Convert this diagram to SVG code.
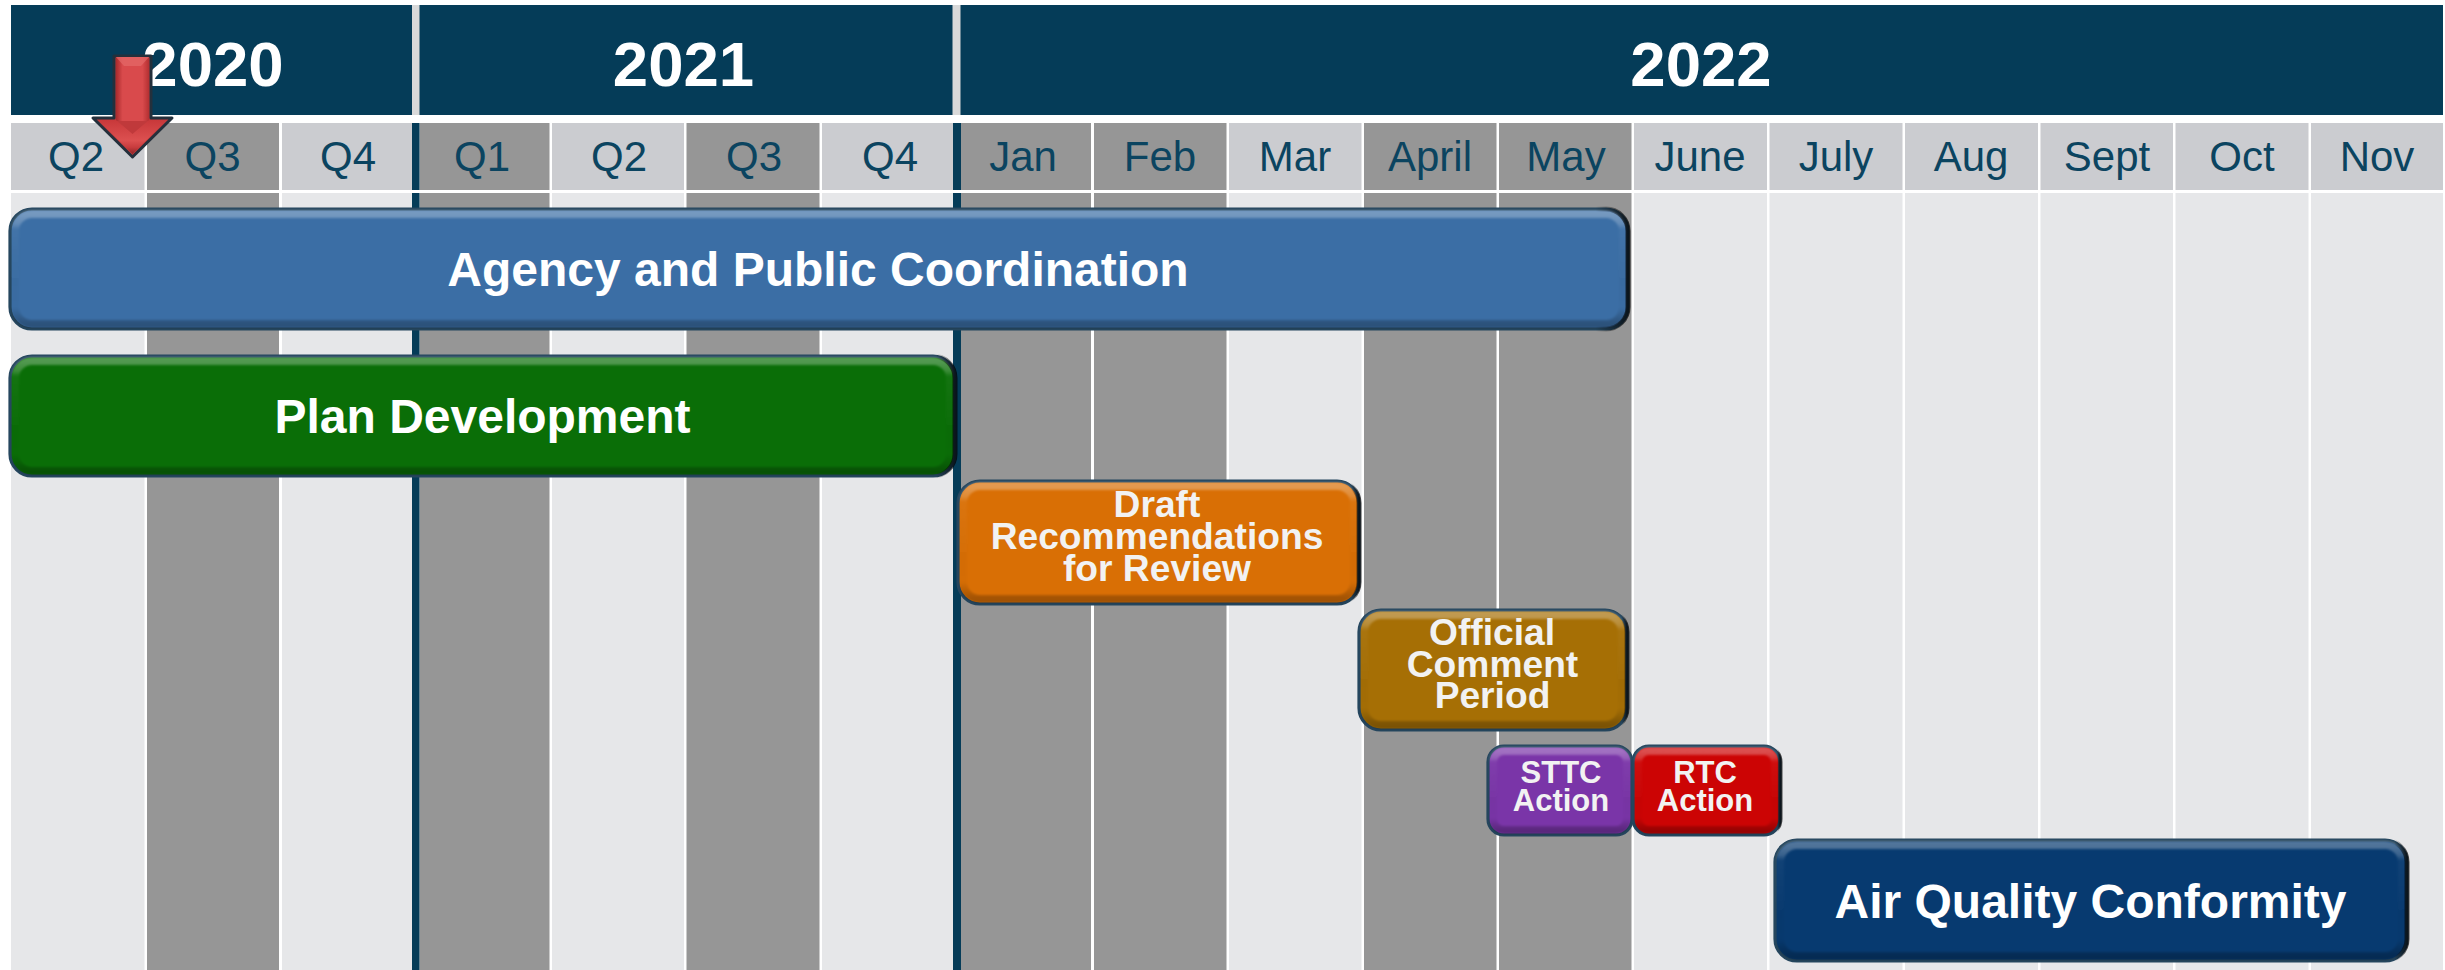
<svg xmlns="http://www.w3.org/2000/svg" width="2445" height="970" viewBox="0 0 2445 970">
<style>
text{font-family:"Liberation Sans",Arial,sans-serif;text-anchor:middle}
.yr{fill:#053c58}.gap{fill:#d9d9d9}
.yt{font-size:63.500px;font-weight:700;fill:#fff}
.l{fill:#cbccd0}.d{fill:#969696}.bl{fill:#e6e7e9}.nv{fill:#053c58}
.st{font-size:42px;fill:#0b4460}
.edge{stroke:#25465e;stroke-width:3.2}
.bev{fill:none;stroke:url(#bevel);stroke-width:8;filter:url(#soft)}
.shade{fill:none;stroke:url(#side);stroke-width:5}
.b{font-weight:700;fill:#fff}
.xl{font-size:48px}.m{font-size:37.200px;fill:#f2f2f2}.s{font-size:31px;fill:#f2f2f2}
</style>
<defs>
<linearGradient id="bevel" x1="0" y1="0" x2="0" y2="1">
<stop offset="0" stop-color="#fff" stop-opacity=".3"/><stop offset=".09" stop-color="#fff" stop-opacity=".2"/><stop offset=".14" stop-color="#fff" stop-opacity=".04"/><stop offset=".85" stop-color="#000" stop-opacity=".02"/><stop offset="1" stop-color="#000" stop-opacity=".26"/>
</linearGradient>
<linearGradient id="side" x1="0" y1="0" x2="1" y2="0">
<stop offset="0" stop-color="#000" stop-opacity="0"/><stop offset=".98" stop-color="#000" stop-opacity="0"/><stop offset="1" stop-color="#000" stop-opacity=".7"/>
</linearGradient>
<linearGradient id="arrowFill" x1="0" y1="0" x2="0" y2="1">
<stop offset="0" stop-color="#c8383a"/><stop offset=".6" stop-color="#dc5050"/><stop offset=".8" stop-color="#c83c3e"/><stop offset="1" stop-color="#8e2426"/>
</linearGradient>
<linearGradient id="shaft" x1="0" y1="0" x2="1" y2="0">
<stop offset="0" stop-color="#a92b2d"/><stop offset=".2" stop-color="#d94a4c"/><stop offset=".8" stop-color="#d94a4c"/><stop offset="1" stop-color="#b43032"/>
</linearGradient>
<filter id="soft" x="-5%" y="-10%" width="110%" height="120%"><feGaussianBlur stdDeviation="1.3"/></filter>
</defs>
<rect width="2445" height="970" fill="#fff"/>
<g id="years">
<rect class="gap" x="411" y="5" width="9" height="110"/><rect class="gap" x="952" y="5" width="9" height="110"/>
<rect class="yr" x="11" y="5" width="401" height="110"/><rect class="yr" x="419.500" y="5" width="533" height="110"/><rect class="yr" x="960.500" y="5" width="1482.500" height="110"/>
<text class="yt" x="213" y="86">2020</text><text class="yt" x="683.500" y="86">2021</text><text class="yt" x="1701" y="86">2022</text>
</g>
<g id="periods">
<rect class="l" x="11" y="123" width="133.500" height="67"/><rect class="d" x="147" y="123" width="132" height="67"/><rect class="l" x="282" y="123" width="130" height="67"/>
<rect class="d" x="419.500" y="123" width="130" height="67"/><rect class="l" x="552" y="123" width="132" height="67"/><rect class="d" x="686.500" y="123" width="133" height="67"/><rect class="l" x="822" y="123" width="131" height="67"/>
<rect class="d" x="961" y="123" width="130" height="67"/><rect class="d" x="1094" y="123" width="132.500" height="67"/><rect class="l" x="1229" y="123" width="132.500" height="67"/><rect class="d" x="1364" y="123" width="132.500" height="67"/><rect class="d" x="1499" y="123" width="132.500" height="67"/><rect class="l" x="1634" y="123" width="133" height="67"/><rect class="l" x="1769.500" y="123" width="133" height="67"/><rect class="l" x="1905" y="123" width="133" height="67"/><rect class="l" x="2040.500" y="123" width="132.500" height="67"/><rect class="l" x="2175.500" y="123" width="133" height="67"/><rect class="l" x="2311" y="123" width="132" height="67"/>
<rect class="nv" x="412" y="123" width="7.500" height="67"/><rect class="nv" x="953" y="123" width="8" height="67"/>
<text x="76" y="171" class="st">Q2</text><text x="212.500" y="171" class="st">Q3</text><text x="348" y="171" class="st">Q4</text><text x="482" y="171" class="st">Q1</text><text x="619" y="171" class="st">Q2</text><text x="754" y="171" class="st">Q3</text><text x="890" y="171" class="st">Q4</text>
<text x="1023" y="171" class="st">Jan</text><text x="1160" y="171" class="st">Feb</text><text x="1295" y="171" class="st">Mar</text><text x="1430" y="171" class="st">April</text><text x="1566" y="171" class="st">May</text><text x="1700" y="171" class="st">June</text><text x="1836" y="171" class="st">July</text><text x="1971" y="171" class="st">Aug</text><text x="2107" y="171" class="st">Sept</text><text x="2242" y="171" class="st">Oct</text><text x="2377" y="171" class="st">Nov</text>
</g>
<g id="columns">
<rect class="bl" x="11" y="193" width="133.500" height="777"/><rect class="d" x="147" y="193" width="132" height="777"/><rect class="bl" x="282" y="193" width="130" height="777"/>
<rect class="d" x="419.500" y="193" width="130" height="777"/><rect class="bl" x="552" y="193" width="132" height="777"/><rect class="d" x="686.500" y="193" width="133" height="777"/><rect class="bl" x="822" y="193" width="131" height="777"/>
<rect class="d" x="961" y="193" width="130" height="777"/><rect class="d" x="1094" y="193" width="132.500" height="777"/><rect class="bl" x="1229" y="193" width="132.500" height="777"/><rect class="d" x="1364" y="193" width="132.500" height="777"/><rect class="d" x="1499" y="193" width="132.500" height="777"/><rect class="bl" x="1634" y="193" width="133" height="777"/><rect class="bl" x="1769.500" y="193" width="133" height="777"/><rect class="bl" x="1905" y="193" width="133" height="777"/><rect class="bl" x="2040.500" y="193" width="132.500" height="777"/><rect class="bl" x="2175.500" y="193" width="133" height="777"/><rect class="bl" x="2311" y="193" width="132" height="777"/>
<rect class="nv" x="412" y="193" width="7.500" height="777"/><rect class="nv" x="953" y="193" width="8" height="777"/>
</g>
<g id="connectors"></g>
<g id="agency">
<rect class="edge" x="10" y="209" width="1618" height="120" rx="22" fill="#3b6ea5"/><rect class="bev" x="15" y="214" width="1608" height="110" rx="17"/><rect class="shade" x="10" y="209" width="1618" height="120" rx="22"/>
<text class="b xl" x="818" y="286">Agency and Public Coordination</text>
</g>
<g id="plan">
<rect class="edge" x="10" y="356" width="945" height="120" rx="22" fill="#0a6e07"/><rect class="bev" x="15" y="361" width="935" height="110" rx="17"/><rect class="shade" x="10" y="356" width="945" height="120" rx="22"/>
<text class="b xl" x="482.500" y="433">Plan Development</text>
</g>
<g id="draft">
<rect class="edge" x="958" y="481" width="401" height="123" rx="22" fill="#d96f05"/><rect class="bev" x="963" y="486" width="391" height="113" rx="17"/><rect class="shade" x="958" y="481" width="401" height="123" rx="22"/>
<text class="b m"><tspan x="1157" y="517">Draft</tspan><tspan x="1157" y="549">Recommendations</tspan><tspan x="1157" y="581">for Review</tspan></text>
</g>
<g id="comment">
<rect class="edge" x="1359" y="610" width="268" height="120" rx="22" fill="#a66f05"/><rect class="bev" x="1364" y="615" width="258" height="110" rx="17"/><rect class="shade" x="1359" y="610" width="268" height="120" rx="22"/>
<text class="b m"><tspan x="1492" y="645">Official</tspan><tspan x="1492.500" y="677">Comment</tspan><tspan x="1492.500" y="708">Period</tspan></text>
</g>
<g id="sttc">
<rect class="edge" x="1488" y="746" width="144" height="89" rx="16" fill="#7a35a8"/><rect class="bev" x="1493" y="751" width="134" height="79" rx="11"/>
<text class="b s"><tspan x="1561" y="783">STTC</tspan><tspan x="1561" y="811">Action</tspan></text>
</g>
<g id="rtc">
<rect class="edge" x="1633" y="746" width="147" height="89" rx="16" fill="#cc0404"/><rect class="bev" x="1638" y="751" width="137" height="79" rx="11"/><rect class="shade" x="1633" y="746" width="147" height="89" rx="16"/>
<text class="b s"><tspan x="1705" y="783">RTC</tspan><tspan x="1705" y="811">Action</tspan></text>
</g>
<g id="air">
<rect class="edge" x="1775" y="840" width="632" height="121" rx="22" fill="#073a70"/><rect class="bev" x="1780" y="845" width="622" height="111" rx="17"/><rect class="shade" x="1775" y="840" width="632" height="121" rx="22"/>
<text class="b xl" x="2090.500" y="918">Air Quality Conformity</text>
</g>
<g id="marker">
<path d="M114 56H151V118H172L132.500 157L93 118H114Z" fill="#c0393b" stroke="#24303c" stroke-width="3" stroke-linejoin="round"/>
<rect x="116" y="57" width="33" height="64" fill="url(#shaft)"/>
<path d="M116 57H149L141 66H124Z" fill="#e46a6a" opacity=".7"/>
<path d="M98 120H116L132.500 134L149 120H167L132.500 154Z" fill="url(#arrowFill)"/>
</g>
</svg>
